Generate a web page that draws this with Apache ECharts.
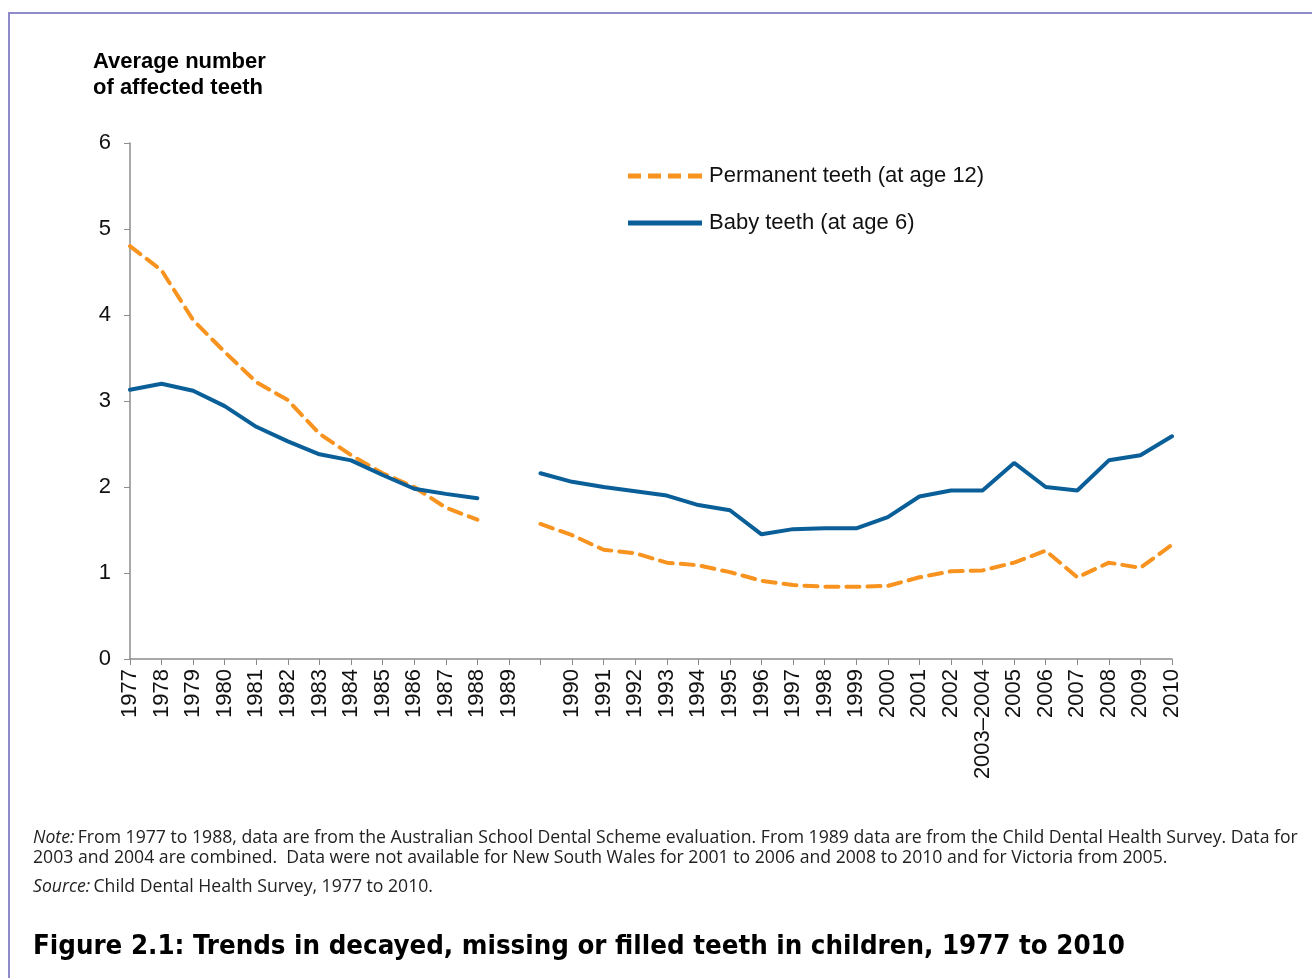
<!DOCTYPE html>
<html>
<head>
<meta charset="utf-8">
<script src="https://cdn.jsdelivr.net/npm/echarts@6/dist/echarts.min.js"></script>
<style>
  html, body { margin: 0; padding: 0; background: #fff; }
  #chart { width: 1312px; height: 978px; position: relative; }
  #frame { position: absolute; left: 8px; top: 12px; width: 1400px; height: 1000px;
           border-top: 2px solid #8f8ac9; border-left: 2px solid #8f8ac9; pointer-events: none; }
</style>
</head>
<body>
<div id="chart"></div>
<div id="frame"></div>
<script>
// categories (blank slot after 1989 is where the new survey starts)
var years = ['1977','1978','1979','1980','1981','1982','1983','1984','1985','1986','1987','1988','1989','',
  '1990','1991','1992','1993','1994','1995','1996','1997','1998','1999','2000','2001','2002','2003\u20132004',
  '2005','2006','2007','2008','2009','2010'];

var permanent = [4.8, 4.52, 3.94, 3.57, 3.22, 3.01, 2.62, 2.37, 2.16, 2.0, 1.76, 1.62, null, 1.57,
  1.44, 1.27, 1.23, 1.12, 1.09, 1.01, 0.91, 0.86, 0.84, 0.84, 0.85, 0.95, 1.02, 1.03,
  1.12, 1.26, 0.95, 1.12, 1.06, 1.33];

var baby = [3.13, 3.2, 3.12, 2.94, 2.7, 2.53, 2.38, 2.31, 2.14, 1.98, 1.92, 1.87, null, 2.16,
  2.06, 2.0, 1.95, 1.9, 1.79, 1.73, 1.45, 1.51, 1.52, 1.52, 1.65, 1.89, 1.96, 1.96,
  2.28, 2.0, 1.96, 2.31, 2.37, 2.59];

var chart = echarts.init(document.getElementById('chart'));
var sans = 'Liberation Sans, Arial, sans-serif';
var noteFont = '"Open Sans", sans-serif';
var orange = '#f7931e', blue = '#0a5f99';

chart.setOption({
  animation: false,
  grid: { left: 130, right: 140, top: 143, bottom: 319, containLabel: false },
  legend: {
    left: 623, top: 160, orient: 'vertical', itemWidth: 74, itemHeight: 5, itemGap: 25,
    textStyle: { fontFamily: sans, fontSize: 22, color: '#111', padding: [0, 0, 0, 2] },
    data: [
      { name: 'Permanent teeth (at age 12)',
        icon: 'path://M0,0h13v5h-13z M20,0h13v5h-13z M40,0h13v5h-13z M60,0h14v5h-14z' },
      { name: 'Baby teeth (at age 6)', icon: 'path://M0,0h74v5h-74z' }
    ]
  },
  xAxis: {
    type: 'category', data: years, boundaryGap: false,
    axisLine: { lineStyle: { color: '#8c8c8c', width: 1.5 } },
    axisTick: { alignWithLabel: true, length: 6, inside: false, lineStyle: { color: '#8c8c8c' } },
    axisLabel: { interval: 0, rotate: 90, fontFamily: sans, fontSize: 22, color: '#111', margin: 10 }
  },
  yAxis: {
    type: 'value', min: 0, max: 6, interval: 1,
    splitLine: { show: false },
    axisLine: { show: true, lineStyle: { color: '#8c8c8c', width: 1.5 } },
    axisTick: { show: true, length: 6, lineStyle: { color: '#8c8c8c' } },
    axisLabel: { fontFamily: sans, fontSize: 22, color: '#111', margin: 19 }
  },
  series: [
    { name: 'Permanent teeth (at age 12)', type: 'line', data: permanent, symbol: 'none',
      itemStyle: { color: orange },
      lineStyle: { color: orange, width: 4, type: [13, 8], cap: 'round' } },
    { name: 'Baby teeth (at age 6)', type: 'line', data: baby, symbol: 'none',
      itemStyle: { color: blue },
      lineStyle: { color: blue, width: 4, cap: 'round' } }
  ],
  graphic: [
    { type: 'text', left: 93, top: 49, style: { text: 'Average number\nof affected teeth',
      font: 'bold 22px Liberation Sans, Arial, sans-serif', lineHeight: 26, fill: '#000' } },
    { type: 'text', left: 33, top: 828, style: {
      rich: {
        i: { fontFamily: noteFont, fontStyle: 'italic', fontSize: 17.65, fill: '#222' },
        n: { fontFamily: noteFont, fontSize: 17.65, fill: '#222' }
      },
      text: '{i|Note:} {n|From 1977 to 1988, data are from the Australian School Dental Scheme evaluation. From 1989 data are from the Child Dental Health Survey. Data for}\n' +
            '{n|2003 and 2004 are combined.  Data were not available for New South Wales for 2001 to 2006 and 2008 to 2010 and for Victoria from 2005.}',
      lineHeight: 20 } },
    { type: 'text', left: 33, top: 878, style: {
      rich: {
        i: { fontFamily: noteFont, fontStyle: 'italic', fontSize: 17.65, fill: '#222' },
        n: { fontFamily: noteFont, fontSize: 17.65, fill: '#222' }
      },
      text: '{i|Source:} {n|Child Dental Health Survey, 1977 to 2010.}' } },
    { type: 'text', left: 33, top: 933, style: {
      text: 'Figure 2.1: Trends in decayed, missing or filled teeth in children, 1977 to 2010',
      font: 'bold 27.4px "DejaVu Sans Condensed", sans-serif', fill: '#000' } }
  ]
});
</script>
</body>
</html>
